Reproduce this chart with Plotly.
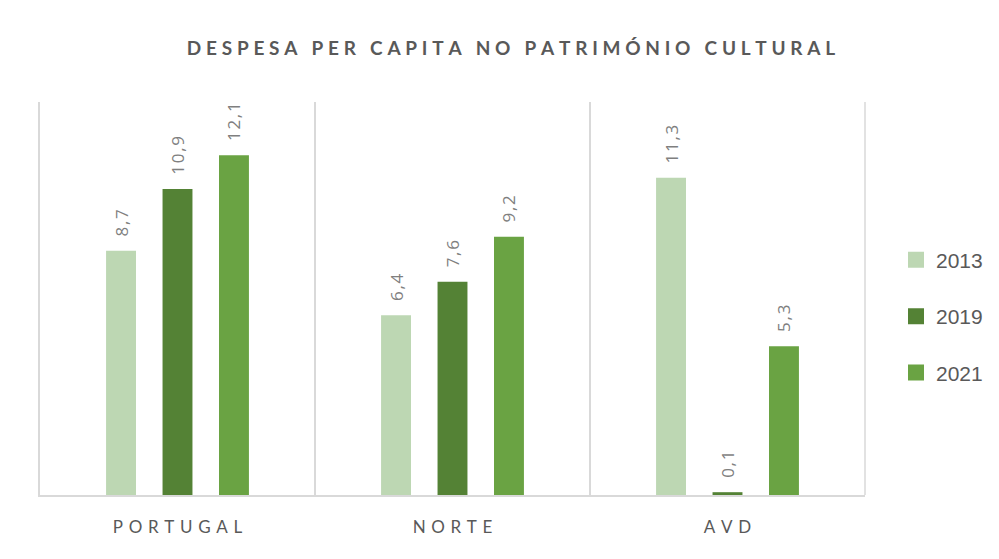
import plotly.graph_objects as go

categories = ["PORTUGAL", "NORTE", "AVD"]
years = ["2013", "2019", "2021"]
values = {
    "2013": [8.7, 6.4, 11.3],
    "2019": [10.9, 7.6, 0.1],
    "2021": [12.1, 9.2, 5.3],
}
colors = {"2013": "#BDD7B3", "2019": "#548235", "2021": "#6AA343"}

def spaced(s, sep="\u2004"):
    return sep.join(s)

def label(v):
    s = f"{v:.1f}".replace(".", ",")
    return "\u2002\u2009" + "\u200a".join(s)

title_text = "DESPESA PER CAPITA NO PATRIMÓNIO CULTURAL"
title_spaced = "\u2005".join(title_text)

fig = go.Figure()
for y in years:
    fig.add_trace(go.Bar(
        x=categories, y=values[y], name=y, marker_color=colors[y],
        marker_line_width=0,
        text=[label(v) for v in values[y]], texttemplate="%{text}",
        textposition="outside", textangle=-90, constraintext="none",
        textfont=dict(family="Open Sans", size=17, color="#7F7F7F"),
        cliponaxis=False, showlegend=False,
    ))
    fig.add_trace(go.Scatter(
        x=[None], y=[None], mode="markers", name=y,
        marker=dict(symbol="square", size=20, color=colors[y]),
        legendgroup=y,
    ))

fig.update_layout(
    width=999, height=559,
    paper_bgcolor="white", plot_bgcolor="white",
    separators=",.",
    margin=dict(l=32, r=142, t=94, b=72),
    barmode="group", bargap=0.384, bargroupgap=0.47,
    title=dict(text="<b>" + title_spaced + "</b>", x=503 / 999, xanchor="center",
               y=1 - 40 / 559, yanchor="middle",
               font=dict(family="Lato", size=19, color="#595959")),
    legend=dict(x=1 + 31 / 825, xanchor="left", y=0.455, yanchor="middle",
                font=dict(family="Liberation Sans", size=21, color="#595959"),
                tracegroupgap=26, itemwidth=30),
    showlegend=True,
)
fig.update_xaxes(
    type="category", tickmode="array", tickvals=categories,
    ticktext=[spaced(c) for c in categories],
    tickfont=dict(family="Lato", size=17, color="#595959"),
    tickson="boundaries", showgrid=True, gridcolor="#D9D9D9", gridwidth=1.5,
    ticks="", showline=True, linecolor="#D9D9D9", linewidth=1.5,
    ticklabelstandoff=16,
    range=[-0.5, 2.5],
)
fig.update_yaxes(
    range=[0, 14], showgrid=False, showticklabels=False, zeroline=False,
    showline=True, linecolor="#D9D9D9", linewidth=1.5, mirror=False,
)
# right boundary line
fig.add_shape(type="line", xref="paper", yref="paper", x0=1, x1=1, y0=0, y1=1,
              line=dict(color="#D9D9D9", width=1.5))
fig.write_html("out.html")
